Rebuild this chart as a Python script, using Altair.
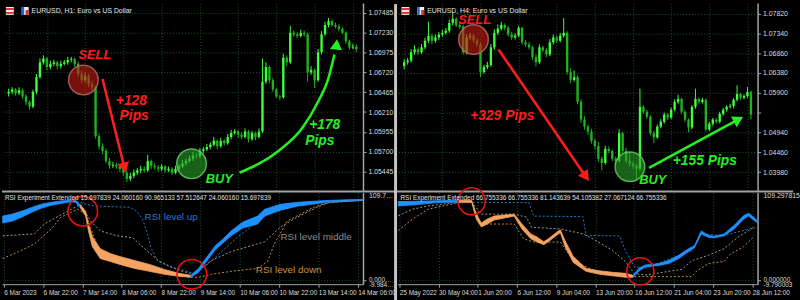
import json
import altair as alt
import pandas as pd

FONT = "Liberation Sans"
BG = "#000000"
GRID = "#22552a"
AXC = "#a6a6a6"
LBL = "#dcdcdc"
UPC = "#3dff3d"
DNC = "#1fb41f"
RED = "#ff1c1c"
GREEN = "#24ee24"
BLUE = "#1e90ff"
ORANGE = "#f4a460"
LV_UP = "#2b7bd0"
LV_MID = "#9c9c9c"
LV_DN = "#c98a42"

WL, WR, HP, HR = 366, 365, 190, 93
X_DOMAIN = [-0.5, 100.5]
RSI_DOMAIN = [-4.9, 108.5]
TIME_TICKS = [0, 11, 22, 33, 44, 55, 66, 77, 88, 99]

# ---------------- LEFT : EURUSD H1 ----------------
L_title = "EURUSD, H1: Euro vs US Dollar"
L_rsi_title = "RSI Experiment Extended 15.697839 24.060160 90.965133 57.512647 24.060160 15.697839"
L_time_labels = ["6 Mar 2023", "6 Mar 22:00", "7 Mar 14:00", "8 Mar 06:00", "8 Mar 22:00",
                 "9 Mar 14:00", "10 Mar 06:00", "10 Mar 22:00", "13 Mar 14:00", "14 Mar 06:00"]
L_price_ticks = [1.07485, 1.07230, 1.06975, 1.06720, 1.06465, 1.06210, 1.05955, 1.05700, 1.05445]
L_price_domain = [1.05201, 1.07612]
L_rsi_top = "109.751416"
L_rsi_bottom = ["0.000000", "-9.984094"]
L_first_open = 1.0645
L_close = [
    1.0647, 1.0650, 1.0645, 1.0649, 1.0641, 1.0634, 1.0628, 1.0647, 1.0666, 1.0685,
    1.0690, 1.0679, 1.0683, 1.0685, 1.0680, 1.0683, 1.0685, 1.0688, 1.0689, 1.0683,
    1.0670, 1.0662, 1.0667, 1.0657, 1.0653, 1.0590, 1.0577, 1.0571, 1.0558, 1.0552,
    1.0553, 1.0551, 1.0548, 1.0543, 1.0535, 1.0539, 1.0543, 1.0546, 1.0548, 1.0546,
    1.0558, 1.0552, 1.0550, 1.0548, 1.0551, 1.0546, 1.0548, 1.0543, 1.0548, 1.0551,
    1.0555, 1.0558, 1.0561, 1.0565, 1.0564, 1.0571, 1.0573, 1.0576, 1.0579, 1.0584,
    1.0577, 1.0584, 1.0581, 1.0589, 1.0594, 1.0596, 1.0592, 1.0589, 1.0596, 1.0586,
    1.0594, 1.0589, 1.0596, 1.0660, 1.0679, 1.0662, 1.0650, 1.0641, 1.0640, 1.0691,
    1.0685, 1.0723, 1.0721, 1.0719, 1.0723, 1.0721, 1.0672, 1.0675, 1.0662, 1.0698,
    1.0721, 1.0733, 1.0738, 1.0733, 1.0731, 1.0728, 1.0723, 1.0712, 1.0704, 1.0705,
    1.0702]
L_high = [
    1.0651, 1.0653, 1.0652, 1.0653, 1.0651, 1.0644, 1.0636, 1.0650, 1.0670, 1.0690,
    1.0694, 1.0692, 1.0687, 1.0688, 1.0687, 1.0687, 1.0688, 1.0692, 1.0692, 1.0691,
    1.0686, 1.0674, 1.0672, 1.0670, 1.0661, 1.0655, 1.0593, 1.0581, 1.0574, 1.0562,
    1.0557, 1.0556, 1.0554, 1.0550, 1.0546, 1.0543, 1.0547, 1.0549, 1.0552, 1.0551,
    1.0566, 1.0560, 1.0555, 1.0553, 1.0554, 1.0553, 1.0551, 1.0550, 1.0552, 1.0554,
    1.0559, 1.0561, 1.0565, 1.0570, 1.0568, 1.0575, 1.0576, 1.0580, 1.0582, 1.0589,
    1.0586, 1.0588, 1.0586, 1.0593, 1.0598, 1.0599, 1.0598, 1.0595, 1.0600, 1.0598,
    1.0597, 1.0596, 1.0600, 1.0690, 1.0685, 1.0681, 1.0665, 1.0652, 1.0643, 1.0696,
    1.0694, 1.0732, 1.0726, 1.0724, 1.0727, 1.0726, 1.0723, 1.0680, 1.0677, 1.0702,
    1.0725, 1.0737, 1.0742, 1.0740, 1.0736, 1.0734, 1.0730, 1.0725, 1.0714, 1.0709,
    1.0708]
L_low = [
    1.0641, 1.0644, 1.0642, 1.0643, 1.0638, 1.0630, 1.0624, 1.0626, 1.0644, 1.0664,
    1.0682, 1.0675, 1.0676, 1.0680, 1.0676, 1.0677, 1.0681, 1.0682, 1.0685, 1.0679,
    1.0667, 1.0658, 1.0659, 1.0653, 1.0649, 1.0587, 1.0573, 1.0567, 1.0555, 1.0548,
    1.0549, 1.0548, 1.0544, 1.0539, 1.0531, 1.0532, 1.0536, 1.0540, 1.0542, 1.0543,
    1.0544, 1.0548, 1.0547, 1.0544, 1.0545, 1.0543, 1.0544, 1.0540, 1.0541, 1.0545,
    1.0549, 1.0552, 1.0556, 1.0558, 1.0561, 1.0562, 1.0568, 1.0571, 1.0573, 1.0577,
    1.0573, 1.0575, 1.0578, 1.0579, 1.0586, 1.0592, 1.0588, 1.0586, 1.0587, 1.0582,
    1.0584, 1.0585, 1.0587, 1.0594, 1.0657, 1.0658, 1.0647, 1.0639, 1.0636, 1.0638,
    1.0680, 1.0683, 1.0718, 1.0716, 1.0717, 1.0718, 1.0660, 1.0669, 1.0652, 1.0660,
    1.0695, 1.0719, 1.0730, 1.0731, 1.0729, 1.0725, 1.0721, 1.0709, 1.0701, 1.0702,
    1.0698]

L_band_x = [-0.3, 2.25, 5.0, 7.8, 10.5, 13.3, 16.0, 18.8, 20.1, 21.5,
            21.5, 22.9, 23.7, 24.8, 27.0, 29.8, 32.5, 36.6, 40.8, 44.9, 49.0, 52.3,
            52.3, 54.5, 56.5, 59.2, 61.4, 63.6, 66.9, 71.0, 73.0, 77.4, 82.1, 91.1, 100.5]
L_band_hi = [79.3, 81.7, 85.4, 90.0, 94.0, 96.3, 98.0, 98.8, 98.8, 92.7,
             92.7, 85.4, 69.5, 53.7, 39.0, 33.0, 29.3, 24.4, 19.5, 13.4, 8.5, 6.1,
             6.1, 14.6, 26.8, 42.7, 51.2, 61.0, 72.0, 79.3, 87.8, 93.9, 96.3, 98.8, 100.0]
L_band_lo = [70.7, 73.0, 78.0, 84.0, 89.0, 92.7, 95.0, 97.0, 96.3, 89.0,
             89.0, 79.3, 61.0, 41.5, 26.8, 23.2, 19.5, 14.6, 11.0, 7.3, 4.9, 3.7,
             3.7, 9.8, 22.0, 37.8, 46.3, 54.9, 64.6, 69.5, 79.3, 86.6, 91.5, 97.0, 98.8]
L_band_seg = [0, 0, 0, 0, 0, 0, 0, 0, 0, 0,
              1, 1, 1, 1, 1, 1, 1, 1, 1, 1, 1, 1,
              2, 2, 2, 2, 2, 2, 2, 2, 2, 2, 2, 2, 2]
L_seg_trend = ["up", "down", "up"]

L_up_x = [16.0, 20.1, 24.3, 27.0, 35.3, 37.2, 38.8, 40.0, 41.3, 43.0, 46.3, 50.4, 53.2, 57.3, 65.5, 73.8, 82.1, 100.5]
L_up_v = [97.6, 97.6, 92.7, 91.5, 90.2, 85.4, 75.6, 61.0, 39.0, 24.4, 17.0, 12.2, 8.5, 20.7, 53.7, 81.7, 92.7, 98.8]
L_mid_x = [-0.3, 8.6, 11.3, 17.9, 21.5, 24.3, 27.0, 31.7, 36.1, 40.0, 43.5, 49.0, 53.2, 58.1, 63.6, 68.3, 73.0, 77.4, 82.1, 87.6, 91.1, 100.5]
L_mid_v = [54.9, 57.3, 69.5, 85.4, 93.9, 73.2, 61.0, 54.9, 52.4, 36.6, 23.2, 12.2, 7.3, 24.4, 35.4, 41.5, 47.6, 65.9, 78.0, 90.2, 96.3, 98.8]
L_dn_x = [-0.3, 4.2, 8.6, 13.3, 16.0, 20.7, 22.9, 27.0, 40.8, 51.8, 54.5, 58.1, 63.6, 71.0, 73.8, 75.7, 79.3, 86.7, 91.1, 100.5]
L_dn_v = [26.8, 35.4, 45.1, 63.4, 78.0, 87.8, 81.7, 33.0, 12.2, 3.7, 3.7, 7.3, 11.0, 14.6, 23.2, 45.1, 73.2, 90.2, 96.3, 98.8]

L_ring_x = [22.1, 52.6]
L_ring_v = [85.4, 7.3]
L_lvl_text = ["RSI level up", "RSI level middle", "RSI level down"]
L_lvl_x = [39.4, 77.4, 70.5]
L_lvl_v = [78.0, 53.7, 12.2]

L_circle_x = [21.5, 52.6]
L_circle_y = [1.06622, 1.05544]
L_red_text = ["SELL", "+128", "Pips"]
L_red_tx = [24.8, 35.3, 36.1]
L_red_ty = [1.06940, 1.06356, 1.06153]
L_green_text = ["BUY", "+178", "Pips"]
L_green_tx = [60.6, 90.9, 89.5]
L_green_ty = [1.05354, 1.06039, 1.05836]
L_red_arrow_x = [27.0, 33.3]
L_red_arrow_y = [1.06635, 1.05493]
L_green_arrow_x = [66.4, 77.6, 84.4, 89.0, 91.9, 93.7, 94.3]
L_green_arrow_y = [1.05430, 1.05709, 1.06001, 1.06343, 1.06635, 1.06950, 1.07080]

# ---------------- RIGHT : EURUSD H4 ----------------
R_title = "EURUSD, H4: Euro vs US Dollar"
R_rsi_title = "RSI Experiment Extended 66.755336 66.755336 81.143639 54.105382 27.067124 66.755336"
R_time_labels = ["25 May 2022", "30 May 04:00", "1 Jun 20:00", "6 Jun 12:00", "9 Jun 04:00",
                 "13 Jun 20:00", "16 Jun 12:00", "21 Jun 04:00", "23 Jun 20:00", "28 Jun 12:00"]
R_price_ticks = [1.07820, 1.07340, 1.06860, 1.06380, 1.05900, 1.05420, 1.04940, 1.04460, 1.03980]
R_unlabeled_tick = 1.05420
R_price_domain = [1.03533, 1.08071]
R_rsi_top = "109.297815"
R_rsi_bottom = ["0.000000", "-9.790003"]
R_first_open = 1.0655
R_close = [
    1.0664, 1.0668, 1.0688, 1.0695, 1.0688, 1.0700, 1.0716, 1.0728, 1.0716, 1.0724,
    1.0731, 1.0735, 1.0740, 1.0759, 1.0769, 1.0754, 1.0750, 1.0688, 1.0724, 1.0728,
    1.0716, 1.0707, 1.0640, 1.0652, 1.0657, 1.0700, 1.0735, 1.0745, 1.0754, 1.0747,
    1.0731, 1.0724, 1.0728, 1.0747, 1.0712, 1.0707, 1.0700, 1.0676, 1.0664, 1.0700,
    1.0693, 1.0683, 1.0712, 1.0724, 1.0716, 1.0728, 1.0735, 1.0640, 1.0621, 1.0628,
    1.0568, 1.0525, 1.0508, 1.0496, 1.0473, 1.0461, 1.0430, 1.0420, 1.0454, 1.0449,
    1.0430, 1.0425, 1.0492, 1.0449, 1.0425, 1.0418, 1.0413, 1.0406, 1.0556, 1.0544,
    1.0532, 1.0492, 1.0482, 1.0508, 1.0520, 1.0537, 1.0530, 1.0549, 1.0568, 1.0575,
    1.0544, 1.0525, 1.0506, 1.0556, 1.0575, 1.0568, 1.0573, 1.0501, 1.0515, 1.0525,
    1.0520, 1.0539, 1.0549, 1.0556, 1.0558, 1.0573, 1.0587, 1.0578, 1.0582, 1.0592,
    1.0537]
R_high = [
    1.0672, 1.0674, 1.0696, 1.0705, 1.0700, 1.0708, 1.0723, 1.0762, 1.0733, 1.0731,
    1.0737, 1.0743, 1.0747, 1.0767, 1.0786, 1.0773, 1.0760, 1.0755, 1.0732, 1.0735,
    1.0733, 1.0722, 1.0712, 1.0658, 1.0665, 1.0708, 1.0744, 1.0755, 1.0762, 1.0758,
    1.0752, 1.0737, 1.0734, 1.0752, 1.0750, 1.0718, 1.0713, 1.0704, 1.0682, 1.0707,
    1.0704, 1.0698, 1.0720, 1.0731, 1.0729, 1.0735, 1.0771, 1.0739, 1.0650, 1.0644,
    1.0632, 1.0574, 1.0533, 1.0513, 1.0503, 1.0479, 1.0471, 1.0435, 1.0462, 1.0460,
    1.0453, 1.0435, 1.0502, 1.0496, 1.0457, 1.0447, 1.0424, 1.0418, 1.0600, 1.0560,
    1.0549, 1.0536, 1.0497, 1.0513, 1.0526, 1.0542, 1.0541, 1.0554, 1.0574, 1.0585,
    1.0578, 1.0548, 1.0528, 1.0560, 1.0600, 1.0579, 1.0578, 1.0576, 1.0520, 1.0529,
    1.0528, 1.0544, 1.0553, 1.0560, 1.0563, 1.0577, 1.0608, 1.0590, 1.0586, 1.0604,
    1.0595]
R_low = [
    1.0647, 1.0658, 1.0663, 1.0682, 1.0681, 1.0684, 1.0695, 1.0710, 1.0708, 1.0711,
    1.0718, 1.0726, 1.0731, 1.0735, 1.0753, 1.0749, 1.0744, 1.0682, 1.0683, 1.0718,
    1.0711, 1.0701, 1.0628, 1.0636, 1.0647, 1.0652, 1.0694, 1.0730, 1.0741, 1.0741,
    1.0726, 1.0718, 1.0719, 1.0724, 1.0707, 1.0701, 1.0695, 1.0670, 1.0654, 1.0660,
    1.0688, 1.0676, 1.0679, 1.0707, 1.0710, 1.0712, 1.0723, 1.0634, 1.0613, 1.0617,
    1.0562, 1.0517, 1.0501, 1.0488, 1.0467, 1.0453, 1.0423, 1.0402, 1.0416, 1.0444,
    1.0424, 1.0418, 1.0421, 1.0443, 1.0420, 1.0412, 1.0405, 1.0381, 1.0402, 1.0539,
    1.0527, 1.0487, 1.0468, 1.0478, 1.0504, 1.0515, 1.0524, 1.0526, 1.0545, 1.0563,
    1.0539, 1.0519, 1.0494, 1.0502, 1.0551, 1.0563, 1.0564, 1.0496, 1.0497, 1.0510,
    1.0515, 1.0516, 1.0534, 1.0544, 1.0552, 1.0552, 1.0569, 1.0573, 1.0574, 1.0577,
    1.0525]

R_band_x = [-0.3, 4.5, 10.0, 16.4,
            16.4, 20.3, 21.6, 23.0, 24.7, 26.6, 29.4, 32.2, 34.4, 36.9, 38.5, 40.5, 41.8, 44.6, 45.2, 46.5,
            48.8, 52.4, 56.2, 59.8, 63.4, 65.6,
            65.6, 67.3, 69.0, 72.8, 75.6, 78.4, 81.1, 82.8, 84.7, 86.7, 88.3, 91.1, 93.9, 96.6, 98.0, 99.4, 100.5]
R_band_hi = [97.2, 97.6, 98.2, 98.8,
             98.8, 98.8, 81.7, 70.7, 75.6, 79.3, 80.5, 81.7, 69.5, 57.3, 53.7, 47.6, 51.2, 61.0, 62.2, 48.8,
             29.3, 14.6, 11.6, 9.8, 8.5, 6.1,
             6.1, 15.2, 18.9, 20.7, 24.4, 31.1, 39.0, 42.7, 61.0, 55.5, 54.3, 57.3, 67.7, 79.9, 82.9, 78.0, 73.2]
R_band_lo = [91.8, 93.3, 95.7, 97.0,
             97.0, 96.3, 75.6, 65.9, 69.5, 74.4, 76.8, 79.3, 63.4, 51.2, 47.6, 43.9, 47.6, 57.3, 58.5, 41.5,
             22.0, 11.0, 7.3, 5.5, 3.7, 3.7,
             3.7, 11.6, 16.5, 18.3, 20.7, 26.8, 35.4, 40.2, 57.3, 53.0, 52.4, 54.9, 63.4, 75.6, 79.3, 74.4, 70.7]
R_band_seg = [0, 0, 0, 0,
              1, 1, 1, 1, 1, 1, 1, 1, 1, 1, 1, 1, 1, 1, 1, 1, 1, 1, 1, 1, 1, 1,
              2, 2, 2, 2, 2, 2, 2, 2, 2, 2, 2, 2, 2, 2, 2, 2, 2]
R_seg_trend = ["up", "down", "up"]

R_up_x = [-0.3, 21.1, 36.3, 37.7, 51.5, 52.4, 61.8, 63.4, 65.9, 69.0, 82.0, 84.7, 91.1, 93.9, 100.5]
R_up_v = [97.0, 96.3, 96.0, 79.3, 78.7, 55.2, 54.9, 36.6, 17.0, 14.6, 36.6, 57.3, 55.0, 58.5, 65.9]
R_mid_x = [-0.3, 3.7, 8.1, 15.5, 20.3, 23.0, 26.6, 32.2, 35.7, 37.1, 45.2, 51.5, 54.3, 59.8, 63.4, 65.9, 69.0, 79.2, 82.0, 86.7, 91.1, 95.0, 99.4]
R_mid_v = [79.6, 87.8, 91.8, 96.0, 96.3, 81.7, 81.7, 81.7, 78.0, 65.5, 63.4, 57.3, 51.2, 37.0, 23.2, 8.5, 6.5, 13.4, 24.0, 30.9, 39.0, 53.3, 65.5]
R_dn_x = [-0.3, 3.7, 8.1, 15.5, 20.3, 23.0, 24.7, 32.2, 34.9, 37.7, 45.2, 48.8, 56.2, 63.4, 82.0, 83.3, 86.7, 91.1, 93.0, 96.6, 99.4]
R_dn_v = [61.4, 75.6, 87.8, 95.1, 96.3, 68.3, 69.5, 69.5, 51.2, 47.2, 47.2, 24.4, 8.5, 4.5, 4.5, 11.0, 20.7, 23.2, 32.9, 41.5, 53.7]

R_ring_x = [20.3, 67.6]
R_ring_v = [97.6, 11.0]

R_circle_x = [20.0, 65.1]
R_circle_y = [1.07187, 1.04107]
R_red_text = ["SELL", "+329 Pips"]
R_red_tx = [20.3, 28.3]
R_red_ty = [1.07660, 1.05325]
R_green_text = ["BUY", "+155 Pips"]
R_green_tx = [71.7, 86.7]
R_green_ty = [1.03796, 1.04250]
R_red_arrow_x = [27.2, 52.4]
R_red_arrow_y = [1.06948, 1.03868]
R_green_arrow_x = [70.6, 96.4]
R_green_arrow_y = [1.04083, 1.05253]

ONE = pd.DataFrame({"k": [0]})


def make_xy(W, ydom, xax, yax):
    xs = alt.Scale(domain=X_DOMAIN, nice=False, zero=False)
    ys = alt.Scale(domain=ydom, nice=False, zero=False)

    def X(f):
        return alt.X(f"{f}:Q", scale=xs, axis=xax)

    def Y(f):
        return alt.Y(f"{f}:Q", scale=ys, axis=yax)
    return X, Y


def text_layer(X, Y, texts, tx, ty, color):
    df = pd.DataFrame({"x": tx, "y": ty, "t": texts,
                       "s": [13 if t in ("SELL", "BUY") else 14 for t in texts]})
    return alt.Chart(df).mark_text(font=FONT, fontWeight="bold", fontStyle="italic",
                                   color=color, align="center", baseline="middle").encode(
        x=X("x"), y=Y("y"), text="t:N", size=alt.Size("s:Q", scale=None))


def arrow_layers(X, Y, ax, ay, color, angle, curved=False):
    if curved:
        line_df = pd.DataFrame({"x": ax[:-1], "y": ay[:-1]})
        head_df = pd.DataFrame({"x": ax[-1:], "y": ay[-1:]})
        line = alt.Chart(line_df).mark_line(color=color, strokeWidth=2.6, interpolate="monotone")
    else:
        line_df = pd.DataFrame({"x": ax, "y": ay})
        head_df = pd.DataFrame({"x": ax[-1:], "y": ay[-1:]})
        line = alt.Chart(line_df).mark_line(color=color, strokeWidth=2.6)
    head = alt.Chart(head_df).mark_point(shape="triangle-up", filled=True, size=150, angle=angle,
                                         color=color, opacity=1, strokeWidth=0)
    return [line.encode(x=X("x"), y=Y("y")), head.encode(x=X("x"), y=Y("y"))]


def price_panel(W, closes, highs, lows, first_open, ydom, yticks, label_expr, title,
                circ_x, circ_y, red_t, red_x, red_y, green_t, green_x, green_y,
                red_ax, red_ay, red_ang, green_ax, green_ay, green_ang, green_curved,
                left_side):
    opens = [first_open] + closes[:-1]
    cdf = pd.DataFrame({"x": list(range(len(closes))), "o": opens, "c": closes, "h": highs, "l": lows})
    cdf["d"] = ["up" if c >= o else "dn" for o, c in zip(opens, closes)]
    xax = alt.Axis(values=TIME_TICKS, labels=False, ticks=False, domain=False, grid=True,
                   gridColor=GRID, gridDash=[1, 2], title=None)
    yax = alt.Axis(orient="right", values=yticks, labelExpr=label_expr, labelFont=FONT,
                   labelFontSize=7, labelColor=LBL, labelPadding=2, labelOverlap=False,
                   labelFlush=False, tickSize=3, tickColor=AXC, domainColor=AXC, domainWidth=1.5,
                   grid=True, gridColor=GRID, gridDash=[1, 2], title=None)
    X, Y = make_xy(W, ydom, xax, yax)
    ccol = alt.Color("d:N", scale=alt.Scale(domain=["up", "dn"], range=[UPC, DNC]), legend=None)
    layers = [
        alt.Chart(cdf).mark_rule(strokeWidth=1).encode(x=X("x"), y=Y("l"), y2="h", color=ccol),
        alt.Chart(cdf).mark_bar(size=2.4).encode(x=X("x"), y=Y("o"), y2="c", color=ccol),
    ]
    cdf2 = pd.DataFrame({"x": circ_x, "y": circ_y, "f": ["#c81a14", "#2aa02a"],
                         "s": ["#b07070", "#6ccf6c"]})
    layers.append(alt.Chart(cdf2).mark_circle(size=900, opacity=1, fillOpacity=0.6,
                                              strokeWidth=1.5, strokeOpacity=0.8).encode(
        x=X("x"), y=Y("y"), fill=alt.Fill("f:N", scale=None), stroke=alt.Stroke("s:N", scale=None)))
    layers += arrow_layers(X, Y, red_ax, red_ay, RED, red_ang)
    layers += arrow_layers(X, Y, green_ax, green_ay, GREEN, green_ang, curved=green_curved)
    layers.append(text_layer(X, Y, red_t, red_x, red_y, RED))
    layers.append(text_layer(X, Y, green_t, green_x, green_y, GREEN))
    # header: icons and symbol title
    layers.append(alt.Chart(ONE).mark_rect(color="#ececf2").encode(
        x=alt.value(4), x2=alt.value(12), y=alt.value(4), y2=alt.value(12)))
    layers.append(alt.Chart(ONE).mark_rect(color="#d83a3a").encode(
        x=alt.value(4), x2=alt.value(12), y=alt.value(5), y2=alt.value(7)))
    layers.append(alt.Chart(ONE).mark_rect(color="#d83a3a").encode(
        x=alt.value(4), x2=alt.value(12), y=alt.value(9), y2=alt.value(11)))
    layers.append(alt.Chart(ONE).mark_rect(color="#f0f0f0").encode(
        x=alt.value(20), x2=alt.value(27), y=alt.value(4), y2=alt.value(12)))
    layers.append(alt.Chart(ONE).mark_rect(color="#2a62d0").encode(
        x=alt.value(20), x2=alt.value(22.5), y=alt.value(4), y2=alt.value(12)))
    layers.append(alt.Chart(ONE).mark_rect(color="#d83030").encode(
        x=alt.value(24), x2=alt.value(27), y=alt.value(7), y2=alt.value(12)))
    layers.append(alt.Chart(ONE).mark_text(font=FONT, fontSize=7, color="#e6e6e6", align="left",
                                           baseline="middle").encode(
        x=alt.value(30), y=alt.value(8), text=alt.value(title)))
    # separators
    if left_side:
        layers.append(alt.Chart(ONE).mark_rule(color="#a0a0a0", strokeWidth=2).encode(
            x=alt.value(0), x2=alt.value(W + 33), y=alt.value(HP + 1)))
        layers.append(alt.Chart(ONE).mark_rule(color="#c4c4c4", strokeWidth=3).encode(
            x=alt.value(W + 33), y=alt.value(1), y2=alt.value(HP + 3)))
    else:
        layers.append(alt.Chart(ONE).mark_rule(color="#a0a0a0", strokeWidth=2).encode(
            x=alt.value(-1), x2=alt.value(W + 36), y=alt.value(HP + 1)))
    return alt.layer(*layers).properties(width=W, height=HP)


def rsi_panel(W, bx, bhi, blo, bseg, seg_trend, levels, time_labels, title, top_txt, bot_txt,
              ring_x, ring_v, ring_size, lvl, left_side):
    xax = alt.Axis(values=TIME_TICKS, labelExpr=json.dumps(time_labels) + "[round(datum.value / 11)]",
                   labelAlign="left", labelBaseline="top", labelFont=FONT, labelFontSize=6.5,
                   labelColor=LBL, labelPadding=2, labelOverlap=False, labelFlush=False,
                   tickSize=3, tickColor=AXC, domainColor=AXC, domainWidth=1, grid=True,
                   gridColor=GRID, gridDash=[1, 2], title=None)
    yax = alt.Axis(orient="right", values=[0], labels=False, tickSize=3, tickColor=AXC,
                   domainColor=AXC, domainWidth=1.5, grid=True, gridColor=GRID, gridDash=[1, 2],
                   title=None)
    X, Y = make_xy(W, RSI_DOMAIN, xax, yax)
    layers = []
    for (lx, lv), col in zip(levels, [LV_UP, LV_MID, LV_DN]):
        layers.append(alt.Chart(pd.DataFrame({"x": lx, "v": lv})).mark_line(
            color=col, strokeWidth=1, strokeDash=[2, 2]).encode(x=X("x"), y=Y("v")))
    band = pd.DataFrame({"x": bx, "hi": bhi, "lo": blo, "seg": bseg})
    band["t"] = [seg_trend[s] for s in bseg]
    tscale = alt.Scale(domain=["up", "down"], range=[BLUE, ORANGE])
    layers.append(alt.Chart(band).mark_area(strokeWidth=0.8).encode(
        x=X("x"), y=Y("hi"), y2="lo", detail="seg:N",
        fill=alt.Fill("t:N", scale=tscale, legend=None),
        stroke=alt.Stroke("t:N", scale=tscale, legend=None)))
    layers.append(alt.Chart(pd.DataFrame({"x": ring_x, "v": ring_v})).mark_point(
        shape="circle", filled=False, size=ring_size, strokeWidth=1.6, color="#e81212",
        opacity=1).encode(x=X("x"), y=Y("v")))
    if lvl is not None:
        for t, lx, lv, col in zip(lvl[0], lvl[1], lvl[2], ["#2a7cc8", "#8c8c8c", "#cf8e45"]):
            layers.append(alt.Chart(pd.DataFrame({"x": [lx], "v": [lv], "t": [t]})).mark_text(
                font=FONT, fontSize=10, color=col, align="left", baseline="middle").encode(
                x=X("x"), y=Y("v"), text="t:N"))
    layers.append(alt.Chart(ONE).mark_text(font=FONT, fontSize=6.5, color="#e0e0e0", align="left",
                                           baseline="middle").encode(
        x=alt.value(3), y=alt.value(6), text=alt.value(title)))
    lim = 26 if left_side else 60
    layers.append(alt.Chart(pd.DataFrame({"v": [RSI_DOMAIN[1]], "t": [top_txt]})).mark_text(
        font=FONT, fontSize=7, color=LBL, align="left", baseline="top", limit=lim, ellipsis="").encode(
        x=alt.value(W + 6), y=Y("v"), text="t:N"))
    layers.append(alt.Chart(pd.DataFrame({"v": [0.6, -5.6], "t": bot_txt})).mark_text(
        font=FONT, fontSize=6.5, color=LBL, align="left", baseline="middle", limit=lim, ellipsis="").encode(
        x=alt.value(W + 6), y=Y("v"), text="t:N"))
    if left_side:
        layers.append(alt.Chart(ONE).mark_rule(color="#c4c4c4", strokeWidth=3).encode(
            x=alt.value(W + 33), y=alt.value(-2), y2=alt.value(HR + 20)))
    return alt.layer(*layers).properties(width=W, height=HR)


pL = price_panel(WL, L_close, L_high, L_low, L_first_open, L_price_domain, L_price_ticks,
                 "format(datum.value, '.5f')", L_title, L_circle_x, L_circle_y,
                 L_red_text, L_red_tx, L_red_ty, L_green_text, L_green_tx, L_green_ty,
                 L_red_arrow_x, L_red_arrow_y, 166, L_green_arrow_x, L_green_arrow_y, 6, True,
                 True)
pR = price_panel(WR, R_close, R_high, R_low, R_first_open, R_price_domain, R_price_ticks,
                 f"abs(datum.value - {R_unlabeled_tick}) < 0.00001 ? '' : format(datum.value, '.5f')",
                 R_title, R_circle_x, R_circle_y,
                 R_red_text, R_red_tx, R_red_ty, R_green_text, R_green_tx, R_green_ty,
                 R_red_arrow_x, R_red_arrow_y, 145, R_green_arrow_x, R_green_arrow_y, 62, False,
                 False)
rL = rsi_panel(WL, L_band_x, L_band_hi, L_band_lo, L_band_seg, L_seg_trend,
               [(L_up_x, L_up_v), (L_mid_x, L_mid_v), (L_dn_x, L_dn_v)], L_time_labels,
               L_rsi_title, L_rsi_top, L_rsi_bottom, L_ring_x, L_ring_v, 900,
               (L_lvl_text, L_lvl_x, L_lvl_v), True)
rR = rsi_panel(WR, R_band_x, R_band_hi, R_band_lo, R_band_seg, R_seg_trend,
               [(R_up_x, R_up_v), (R_mid_x, R_mid_v), (R_dn_x, R_dn_v)], R_time_labels,
               R_rsi_title, R_rsi_top, R_rsi_bottom, R_ring_x, R_ring_v, 760, None, False)

chart = alt.concat(pL, pR, rL, rR, columns=2, spacing={"row": 2, "column": 35},
                   bounds="flush", align="each", padding=0, background=BG
                   ).configure_view(strokeWidth=0)

chart.save("out.html", embed_options={"renderer": "svg", "actions": False})
